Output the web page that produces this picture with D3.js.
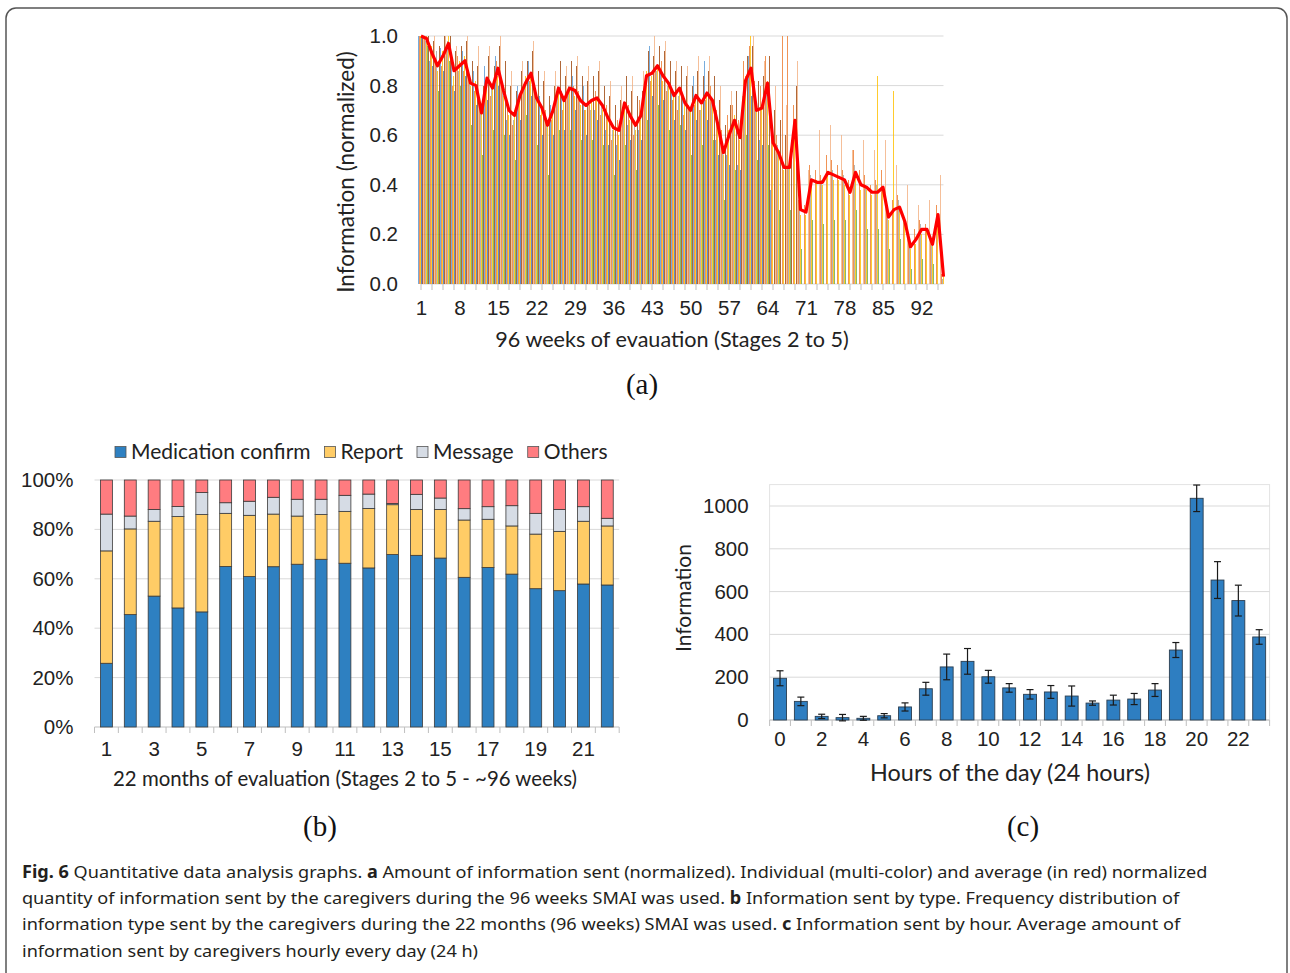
<!DOCTYPE html>
<html>
<head>
<meta charset="utf-8">
<script src="https://cdn.jsdelivr.net/npm/d3@7"></script>
<style>
html, body { margin: 0; padding: 0; background: #fff; }
svg { display: block; }
</style>
</head>
<body>
<div id="chart"></div>
<script>
'use strict';

// ---------- (a) weekly information, normalized (percent of max) ----------
const weeks = d3.range(1, 97);
const weekLabels = [1, 8, 15, 22, 29, 36, 43, 50, 57, 64, 71, 78, 85, 92];

// red line: average over caregivers
const avgWeekly = [100,99,93,88,92,97,86,88,90,81, 80,69,83,79,87,78,70,68,76,81,
  85,75,71,64,70,79,74,79,78,74, 72,74,75,72,67,63,62,73,68,64,
  68,84,85,88,84,81,76,79,73,70, 76,73,77,74,64,53,60,66,59,82,
  87,70,71,81,57,53,47,47,66,30, 29,42,41,41,45,44,43,42,37,45,
  40,39,37,37,39,27,30,31,25,15, 18,22,22,16,28,3];

// individual caregivers (estimated from the texture)
const cgBlue = [100,96,90,82,95,100,90,84,94,78, 86,62,88,82,92,76,66,70,80,88,
  90,72,76,58,72,86,78,90,84,72, 80,78,70,74,62,68,56,82,64,70,
  62,92,96,100,86,84,78,92,76,100, 84,100,90,72,58,44,52,60,48,76,
  92,60,58,70,38,30,0,0,0,0, 0,0,0,0,0,0,0,0,0,0,
  0,0,0,0,0,0,0,0,0,0, 0,0,0,0,0,0];
const cgOrange = [100,100,95,90,88,96,80,92,86,84, 78,74,80,76,90,82,72,64,74,78,
  82,80,68,70,66,74,70,76,80,78, 70,72,78,68,72,58,66,70,72,60,
  74,80,82,86,90,78,74,70,68,72, 72,70,74,80,70,62,68,72,66,90,
  96,82,80,92,66,60,100,100,72,34, 32,48,46,44,52,50,48,46,42,54,
  46,44,40,42,46,30,34,36,28,18, 22,26,24,18,32,4];
const cgGray = [100,98,92,94,90,98,88,86,90,82, 80,70,84,80,86,80,74,66,78,80,
  86,78,72,66,74,80,72,80,76,76, 74,70,76,72,70,62,64,72,70,66,
  70,82,84,86,82,80,74,76,72,70, 74,70,76,74,62,54,58,64,60,80,
  84,72,74,78,60,56,50,48,68,32, 30,44,40,42,48,46,44,44,70,48,
  42,40,38,40,42,28,32,34,26,16, 18,24,22,16,30,2];
const cgGold = [100,100,96,86,94,100,84,90,92,80, 82,72,82,80,84,76,68,70,76,84,
  84,76,70,64,68,78,76,78,76,72, 70,74,74,70,66,62,60,72,66,62,
  66,86,84,88,82,80,76,78,72,70, 76,72,76,72,64,52,62,68,58,84,
  100,70,72,82,56,52,46,50,66,28, 28,40,42,40,44,42,42,40,36,44,
  38,38,36,84,38,26,78,30,24,14, 16,20,22,16,26,4];
const cgNavy = [100,98,88,80,86,92,78,82,84,70, 72,58,74,70,80,68,60,58,66,72,
  76,62,60,50,60,70,62,68,70,62, 60,64,66,62,56,52,50,60,58,52,
  58,74,76,80,74,70,66,70,62,58, 66,64,66,64,52,40,48,54,46,70,
  76,58,56,0,0,0,0,0,0,0, 0,0,0,0,0,0,0,0,0,0,
  0,0,0,0,0,0,0,0,0,0, 0,0,0,0,0,0];
const cgGreen = [100,96,86,78,84,90,74,80,82,64, 66,52,70,62,74,60,52,50,60,68,
  70,56,54,44,52,62,56,62,64,58, 52,58,60,56,50,44,46,56,52,46,
  50,66,70,72,68,62,60,64,56,52, 60,56,60,58,46,34,40,46,40,60,
  66,50,48,56,36,30,28,30,44,14, 12,26,22,24,28,26,24,26,20,30,
  24,22,20,22,24,14,16,18,12,6, 8,10,12,8,12,0];
const cgBrown = [100,100,98,96,100,100,94,96,98,90, 88,80,92,88,96,90,80,78,86,90,
  94,86,82,76,80,90,84,90,88,84, 82,84,86,80,76,72,74,84,78,76,
  78,94,92,96,94,90,86,88,84,80, 86,84,86,84,74,64,72,78,70,92,
  96,82,84,92,70,66,60,58,80,0, 0,0,0,0,0,0,0,0,0,0,
  0,0,0,0,0,0,0,0,0,0, 0,0,0,0,0,0];
const cgPeach = [100,100,100,98,100,100,96,100,100,94, 96,86,96,94,100,92,86,84,90,94,
  98,92,86,82,86,94,88,94,92,88, 88,90,90,86,82,78,80,88,84,80,
  86,98,100,100,98,94,90,92,88,86, 92,88,92,88,80,72,78,84,76,96,
  100,88,90,98,80,78,72,70,90,48, 46,60,62,66,64,62,60,60,54,64,
  58,56,54,54,58,42,48,50,40,28, 32,36,34,28,44,6];

const weeklySeries = [cgBlue, cgOrange, cgGray, cgGold, cgNavy, cgGreen, cgBrown, cgPeach];
const seriesColors = ['#5B9BD5', '#ED7D31', '#A5A5A5', '#FFC000', '#4472C4', '#70AD47', '#9E480E', '#F4B183'];

// ---------- (b) information type per month (%) ----------
const months = d3.range(1, 23);
const medConfirm = [25.8,45.5,53.0,48.2,46.6,65.0,60.9,64.9,65.9,67.9,66.3,64.4,69.8,69.5,68.4,60.6,64.6,61.9,56.0,55.2,57.9,57.5];
const reportPct  = [45.5,34.7,30.3,37.0,39.4,21.5,24.8,21.3,19.5,18.1,21.0,24.1,20.2,18.6,19.7,23.2,19.5,19.5,22.1,24.0,25.4,23.9];
const messagePct = [14.9,5.2,4.8,4.1,8.9,4.3,5.7,6.8,6.8,6.2,6.5,5.8,0.5,6.1,4.6,4.6,5.1,8.2,8.4,8.9,5.9,3.1];
const othersPct  = [13.8,14.6,11.9,10.7,5.1,9.2,8.6,7.0,7.8,7.8,6.2,5.7,9.5,5.8,7.3,11.6,10.8,10.4,13.5,11.9,10.8,15.5];
const typeNames = ['Medication confirm', 'Report', 'Message', 'Others'];
const typeColors = ['#2E80C1', '#FFCC66', '#D6DCE5', '#FF7C80'];

// ---------- (c) information per hour ----------
const hours = d3.range(0, 24);
const hourlyMean = [195,87,17,11,8,20,61,146,248,274,202,150,120,131,112,79,93,98,140,327,1036,654,558,388];
const hourlyErr  = [35,20,10,15,9,10,19,30,60,60,30,20,22,30,47,10,23,26,30,35,62,86,72,34];

const svg = d3.select('#chart').append('svg')
  .attr('width', 1290)
  .attr('height', 973)
  .style('font-family', "Lato, 'Open Sans', sans-serif");

// frame around the figure
svg.append('rect')
  .attr('x', 6).attr('y', 8)
  .attr('width', 1281).attr('height', 1000)
  .attr('rx', 10)
  .attr('fill', 'none')
  .attr('stroke', '#555')
  .attr('stroke-width', 1.5);

// ================= panel a =================
const A = {left: 421, right: 943.5, top: 36, bottom: 284};
const xA = d3.scalePoint().domain(weeks).range([A.left, A.right]);
const yA = d3.scaleLinear().domain([0, 100]).range([A.bottom, A.top]);
const inA = d3.scaleBand().domain(d3.range(weeklySeries.length)).range([-2.75, 2.75]);

const gA = svg.append('g');

gA.append('g')
  .selectAll('line')
  .data(yA.ticks(5))
  .join('line')
  .attr('x1', A.left).attr('x2', A.right)
  .attr('y1', d => yA(d)).attr('y2', d => yA(d))
  .attr('stroke', '#D9D9D9');

gA.append('line')
  .attr('x1', A.left).attr('x2', A.left)
  .attr('y1', A.top).attr('y2', A.bottom)
  .attr('stroke', '#D9D9D9');

// thin bars, snapped to whole pixels so every stripe keeps its own colour
weeklySeries.forEach((vals, s) => {
  gA.append('g')
    .attr('fill', seriesColors[s])
    .attr('opacity', 0.82)
    .attr('shape-rendering', 'crispEdges')
    .selectAll('rect')
    .data(vals.map((v, i) => ({w: weeks[i], v: v})).filter(d => d.v > 0))
    .join('rect')
    .attr('x', d => xA(d.w) + inA(s))
    .attr('width', inA.bandwidth())
    .attr('y', d => yA(d.v))
    .attr('height', d => A.bottom - yA(d.v));
});

gA.append('path')
  .datum(avgWeekly)
  .attr('fill', 'none')
  .attr('stroke', '#FF0000')
  .attr('stroke-width', 3.2)
  .attr('stroke-linejoin', 'round')
  .attr('d', d3.line().x((d, i) => xA(weeks[i])).y(d => yA(d)));

// x tick marks every two weeks
gA.append('g')
  .selectAll('line')
  .data(weeks.filter(w => w % 2 === 1))
  .join('line')
  .attr('x1', d => xA(d)).attr('x2', d => xA(d))
  .attr('y1', A.bottom).attr('y2', A.bottom + 6)
  .attr('stroke', '#BFBFBF');

const xAxisA = gA.append('g')
  .attr('transform', `translate(0,${A.bottom})`)
  .call(d3.axisBottom(xA).tickValues(weekLabels).tickSize(0).tickPadding(16));
xAxisA.select('.domain').remove();
xAxisA.selectAll('text').style('font-size', '20.5px').attr('fill', '#222');

const yAxisA = gA.append('g')
  .attr('transform', `translate(${A.left},0)`)
  .call(d3.axisLeft(yA).ticks(5).tickSize(0).tickPadding(23).tickFormat(d => (d / 100).toFixed(1)));
yAxisA.select('.domain').remove();
yAxisA.selectAll('text').style('font-size', '20.5px').attr('fill', '#222');

gA.append('text')
  .attr('transform', `translate(354,${(A.top + A.bottom) / 2 + 12}) rotate(-90)`)
  .attr('text-anchor', 'middle')
  .style('font-size', '22.5px')
  .attr('fill', '#222')
  .text('Information (normalized)');

gA.append('text')
  .attr('x', 672).attr('y', 347)
  .attr('text-anchor', 'middle')
  .style('font-size', '21.6px')
  .attr('fill', '#222')
  .text('96 weeks of evauation (Stages 2 to 5)');

gA.append('text')
  .attr('x', 642).attr('y', 394)
  .attr('text-anchor', 'middle')
  .style('font-family', "'Liberation Serif', 'DejaVu Serif', serif")
  .style('font-size', '29px')
  .attr('fill', '#111')
  .text('(a)');

// ================= panel b =================
const B = {left: 94.5, right: 619.2, top: 480, bottom: 727};
const xB = d3.scaleBand().domain(months).range([B.left, B.right]).paddingInner(0.5).paddingOuter(0.25);
const yB = d3.scaleLinear().domain([0, 100]).range([B.bottom, B.top]);

const rowsB = months.map((m, i) => ({
  month: m,
  'Medication confirm': medConfirm[i],
  'Report': reportPct[i],
  'Message': messagePct[i],
  'Others': othersPct[i]
}));
const stackB = d3.stack().keys(typeNames)(rowsB);

const gB = svg.append('g');

gB.append('g')
  .selectAll('line')
  .data(yB.ticks(5))
  .join('line')
  .attr('x1', B.left).attr('x2', B.right)
  .attr('y1', d => yB(d)).attr('y2', d => yB(d))
  .attr('stroke', d => d === 0 ? '#BFBFBF' : '#D9D9D9');

gB.append('g')
  .selectAll('g')
  .data(stackB)
  .join('g')
  .attr('fill', (d, i) => typeColors[i])
  .selectAll('rect')
  .data(d => d)
  .join('rect')
  .attr('x', d => xB(d.data.month))
  .attr('width', xB.bandwidth())
  .attr('y', d => yB(d[1]))
  .attr('height', d => yB(d[0]) - yB(d[1]))
  .attr('stroke', '#3A3A3A')
  .attr('stroke-width', 0.8);

// tick marks between months
gB.append('g')
  .selectAll('line')
  .data(d3.range(months.length + 1))
  .join('line')
  .attr('x1', k => B.left + k * xB.step()).attr('x2', k => B.left + k * xB.step())
  .attr('y1', B.bottom).attr('y2', B.bottom + 6)
  .attr('stroke', '#BFBFBF');

const xAxisB = gB.append('g')
  .attr('transform', `translate(0,${B.bottom})`)
  .call(d3.axisBottom(xB).tickValues(months.filter(m => m % 2 === 1)).tickSize(0).tickPadding(14));
xAxisB.select('.domain').remove();
xAxisB.selectAll('text').style('font-size', '20.5px').attr('fill', '#222');

const yAxisB = gB.append('g')
  .attr('transform', `translate(${B.left},0)`)
  .call(d3.axisLeft(yB).ticks(5).tickSize(0).tickPadding(21).tickFormat(d => d + '%'));
yAxisB.select('.domain').remove();
yAxisB.selectAll('text').style('font-size', '20.5px').attr('fill', '#222');

gB.append('text')
  .attr('x', 345).attr('y', 786)
  .attr('text-anchor', 'middle')
  .style('font-size', '20.4px')
  .attr('fill', '#222')
  .text('22 months of evaluation (Stages 2 to 5 - ~96 weeks)');

gB.append('text')
  .attr('x', 320).attr('y', 836)
  .attr('text-anchor', 'middle')
  .style('font-family', "'Liberation Serif', 'DejaVu Serif', serif")
  .style('font-size', '29px')
  .attr('fill', '#111')
  .text('(b)');

// legend
const legendB = gB.append('g').attr('transform', 'translate(115,452)');
let legX = 0;
typeNames.forEach((name, i) => {
  const item = legendB.append('g').attr('transform', `translate(${legX},0)`);
  item.append('rect')
    .attr('x', 0).attr('y', -5.5)
    .attr('width', 11).attr('height', 11)
    .attr('fill', typeColors[i])
    .attr('stroke', '#555')
    .attr('stroke-width', 0.8);
  const t = item.append('text')
    .attr('x', 16).attr('y', 0).attr('dy', '0.35em')
    .style('font-size', '21px')
    .attr('fill', '#222')
    .text(name);
  legX += 16 + t.node().getComputedTextLength() + 14;
});

// ================= panel c =================
const C = {left: 769.6, right: 1269.6, top: 484.6, bottom: 720};
const xC = d3.scaleBand().domain(hours).range([C.left, C.right]).paddingInner(0.38).paddingOuter(0.19);
const yC = d3.scaleLinear().domain([0, 1100]).range([C.bottom, C.top]);

const gC = svg.append('g');

gC.append('rect')
  .attr('x', C.left).attr('y', C.top)
  .attr('width', C.right - C.left).attr('height', C.bottom - C.top)
  .attr('fill', 'none')
  .attr('stroke', '#E3E3E3');

gC.append('g')
  .selectAll('line')
  .data(d3.range(200, 1001, 200))
  .join('line')
  .attr('x1', C.left).attr('x2', C.right)
  .attr('y1', d => yC(d)).attr('y2', d => yC(d))
  .attr('stroke', '#D9D9D9');

gC.append('line')
  .attr('x1', C.left).attr('x2', C.right)
  .attr('y1', C.bottom).attr('y2', C.bottom)
  .attr('stroke', '#BFBFBF');

gC.append('g')
  .selectAll('line')
  .data(d3.range(hours.length + 1))
  .join('line')
  .attr('x1', k => C.left + k * xC.step()).attr('x2', k => C.left + k * xC.step())
  .attr('y1', C.bottom).attr('y2', C.bottom + 6)
  .attr('stroke', '#BFBFBF');

gC.append('g')
  .selectAll('rect')
  .data(hours)
  .join('rect')
  .attr('x', h => xC(h))
  .attr('width', xC.bandwidth())
  .attr('y', (h, i) => yC(hourlyMean[i]))
  .attr('height', (h, i) => C.bottom - yC(hourlyMean[i]))
  .attr('fill', '#2E7EC1')
  .attr('stroke', '#2B3E50')
  .attr('stroke-width', 0.9);

// error bars
const errG = gC.append('g')
  .attr('stroke', '#1A1A1A')
  .attr('stroke-width', 1.2)
  .selectAll('g')
  .data(hours)
  .join('g')
  .attr('transform', h => `translate(${xC(h) + xC.bandwidth() / 2},0)`);
errG.append('line')
  .attr('y1', (h, i) => yC(hourlyMean[i] - hourlyErr[i]))
  .attr('y2', (h, i) => yC(hourlyMean[i] + hourlyErr[i]));
errG.append('line')
  .attr('x1', -3.5).attr('x2', 3.5)
  .attr('y1', (h, i) => yC(hourlyMean[i] + hourlyErr[i]))
  .attr('y2', (h, i) => yC(hourlyMean[i] + hourlyErr[i]));
errG.append('line')
  .attr('x1', -3.5).attr('x2', 3.5)
  .attr('y1', (h, i) => yC(hourlyMean[i] - hourlyErr[i]))
  .attr('y2', (h, i) => yC(hourlyMean[i] - hourlyErr[i]));

const xAxisC = gC.append('g')
  .attr('transform', `translate(0,${C.bottom})`)
  .call(d3.axisBottom(xC).tickValues(hours.filter(h => h % 2 === 0)).tickSize(0).tickPadding(11));
xAxisC.select('.domain').remove();
xAxisC.selectAll('text').style('font-size', '20.5px').attr('fill', '#222');

const yAxisC = gC.append('g')
  .attr('transform', `translate(${C.left},0)`)
  .call(d3.axisLeft(yC).tickValues(d3.range(0, 1001, 200)).tickSize(0).tickPadding(21).tickFormat(d3.format('d')));
yAxisC.select('.domain').remove();
yAxisC.selectAll('text').style('font-size', '20.5px').attr('fill', '#222');

gC.append('text')
  .attr('transform', 'translate(691,598) rotate(-90)')
  .attr('text-anchor', 'middle')
  .style('font-size', '21px')
  .attr('fill', '#222')
  .text('Information');

gC.append('text')
  .attr('x', 1010).attr('y', 781)
  .attr('text-anchor', 'middle')
  .style('font-size', '23.4px')
  .attr('fill', '#222')
  .text('Hours of the day (24 hours)');

gC.append('text')
  .attr('x', 1023).attr('y', 836)
  .attr('text-anchor', 'middle')
  .style('font-family', "'Liberation Serif', 'DejaVu Serif', serif")
  .style('font-size', '29px')
  .attr('fill', '#111')
  .text('(c)');

// ================= caption =================
const captionLines = [
  {y: 878, width: 1186, parts: [['Fig. 6', true], [' Quantitative data analysis graphs. ', false], ['a', true],
    [' Amount of information sent (normalized). Individual (multi-color) and average (in red) normalized', false]]},
  {y: 904, width: 1158, parts: [['quantity of information sent by the caregivers during the 96 weeks SMAI was used. ', false], ['b', true],
    [' Information sent by type. Frequency distribution of', false]]},
  {y: 930, width: 1159, parts: [['information type sent by the caregivers during the 22 months (96 weeks) SMAI was used. ', false], ['c', true],
    [' Information sent by hour. Average amount of', false]]},
  {y: 957, width: 456, parts: [['information sent by caregivers hourly every day (24 h)', false]]}
];

const capG = svg.append('g')
  .style('font-family', "'Noto Sans', 'Open Sans', sans-serif")
  .style('font-size', '17px')
  .attr('fill', '#231F20');

captionLines.forEach(line => {
  const t = capG.append('text').attr('x', 0).attr('y', 0);
  line.parts.forEach(p => {
    t.append('tspan')
      .style('font-weight', p[1] ? 'bold' : 'normal')
      .text(p[0]);
  });
  const len = t.node().getComputedTextLength();
  t.attr('transform', `translate(22,${line.y}) scale(${line.width / len},1)`);
});
</script>
</body>
</html>
